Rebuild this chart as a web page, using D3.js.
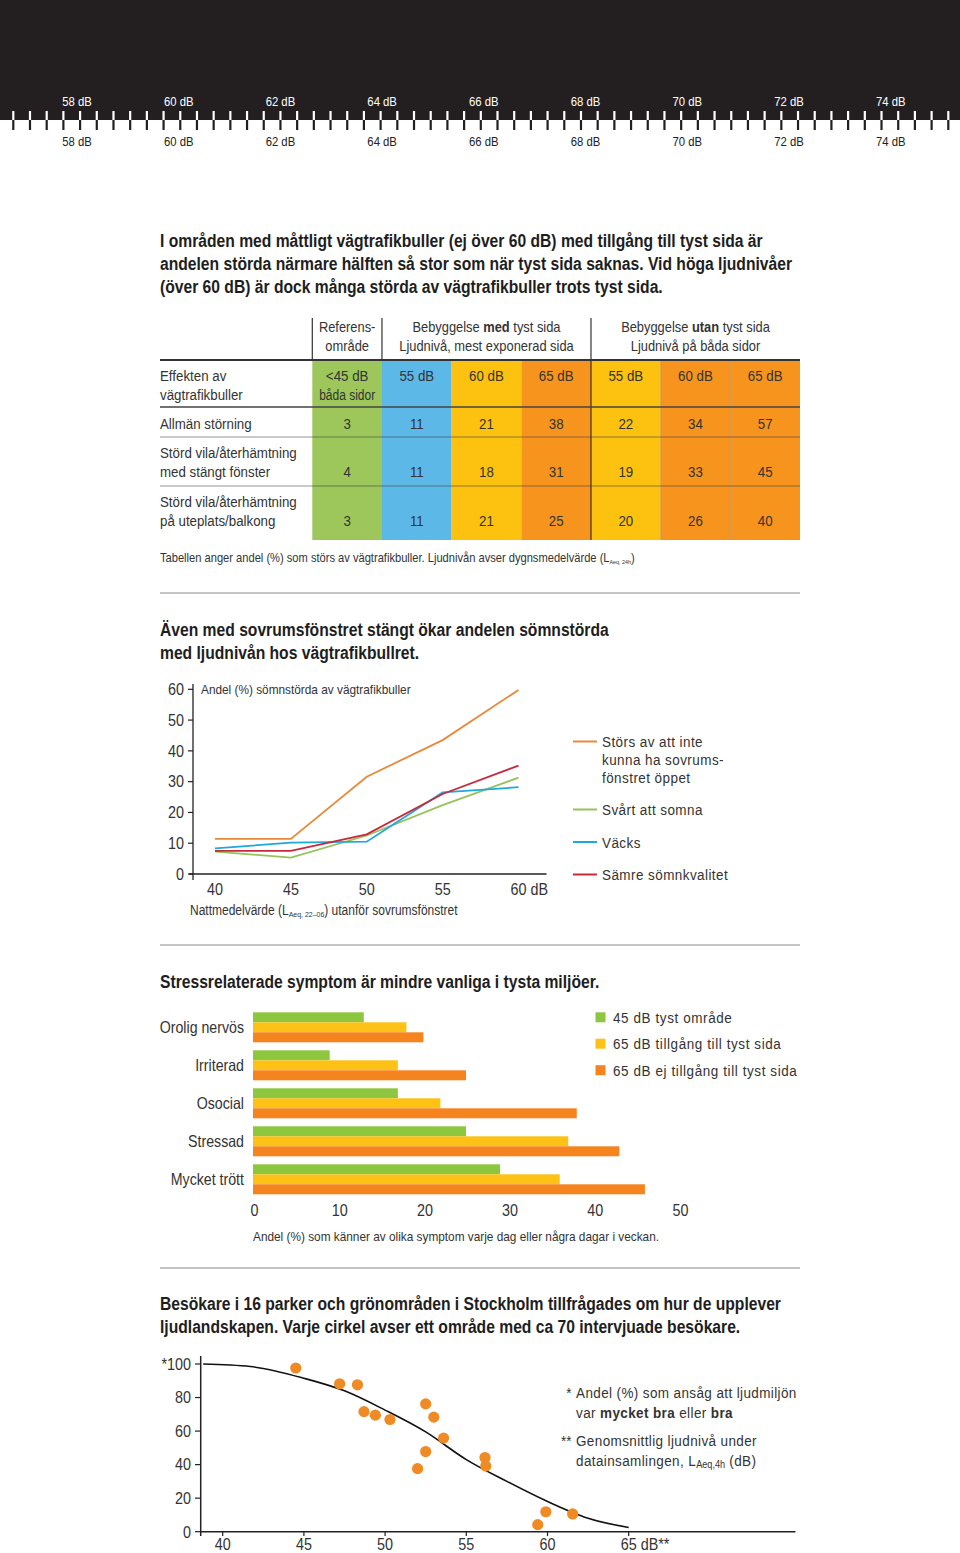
<!DOCTYPE html>
<html><head><meta charset="utf-8">
<script src="https://cdn.jsdelivr.net/npm/d3@7"></script>
<style>
body{margin:0;background:#fff;}
svg text{font-family:"Liberation Sans",Arial,sans-serif;fill:#333;white-space:pre;}
</style></head><body><svg id="c" width="960" height="1553"></svg>
<script>
// ---------------- DATA ----------------
const rulerLabels = [58, 60, 62, 64, 66, 68, 70, 72, 74];
const rulerTickCount = 57;

const title1 = ["I områden med måttligt vägtrafikbuller (ej över 60 dB) med tillgång till tyst sida är",
  "andelen störda närmare hälften så stor som när tyst sida saknas. Vid höga ljudnivåer",
  "(över 60 dB) är dock många störda av vägtrafikbuller trots tyst sida."];

const tableColumns = ["<45 dB", "55 dB", "60 dB", "65 dB", "55 dB", "60 dB", "65 dB"];
const tableColumnColors = ["#9dc75a", "#5cb8e6", "#fcc20f", "#f7941d", "#fcc20f", "#f7941d", "#f7941d"];
const tableRowLabels = [["Allmän störning"], ["Störd vila/återhämtning", "med stängt fönster"], ["Störd vila/återhämtning", "på uteplats/balkong"]];
const rowGeneral = [3, 11, 21, 38, 22, 34, 57];
const rowRestWindow = [4, 11, 18, 31, 19, 33, 45];
const rowRestBalcony = [3, 11, 21, 25, 20, 26, 40];

const title2 = ["Även med sovrumsfönstret stängt ökar andelen sömnstörda", "med ljudnivån hos vägtrafikbullret."];
const sleepLevels = [40, 45, 50, 55, 60];
const sleepWindowClosed = [11.4, 11.4, 31.6, 43.5, 59.8];
const sleepFallAsleep = [7.3, 5.3, 12.5, 22.4, 31.3];
const sleepWoken = [8.3, 10.2, 10.5, 26.5, 28.2];
const sleepQuality = [7.5, 7.5, 12.9, 26.0, 35.2];
const sleepYTicks = [0, 10, 20, 30, 40, 50, 60];
const sleepSeriesNames = [["Störs av att inte", "kunna ha sovrums-", "fönstret öppet"], ["Svårt att somna"], ["Väcks"], ["Sämre sömnkvalitet"]];
const sleepColors = ["#e8893a", "#95c25a", "#1fa8dc", "#c8283c"];

const title3 = ["Stressrelaterade symptom är mindre vanliga i tysta miljöer."];
const symptoms = ["Orolig nervös", "Irriterad", "Osocial", "Stressad", "Mycket trött"];
const quiet45 = [13, 9, 17, 25, 29];
const quietSide65 = [18, 17, 22, 37, 36];
const noQuietSide65 = [20, 25, 38, 43, 46];
const symptomSeriesNames = ["45 dB tyst område", "65 dB tillgång till tyst sida", "65 dB ej tillgång till tyst sida"];
const symptomColors = ["#8dc63f", "#fdc215", "#f5841f"];
const symptomTicks = [0, 10, 20, 30, 40, 50];

const title4 = ["Besökare i 16 parker och grönområden i Stockholm tillfrågades om hur de upplever",
  "ljudlandskapen. Varje cirkel avser ett område med ca 70 intervjuade besökare."];
const parkLevels = [44.5, 47.2, 48.3, 48.7, 49.4, 50.3, 52.5, 53.0, 53.6, 52.5, 52.0, 56.15, 56.2, 59.9, 61.55, 59.4];
const parkGood = [97.6, 88.2, 87.6, 71.6, 69.5, 66.9, 76.2, 68.3, 55.8, 47.8, 37.6, 44.2, 39.2, 11.9, 10.6, 4.2];
const curveLevels = [38.8, 41.7, 45, 47.5, 50, 52.5, 55, 57.5, 60, 62.5, 65];
const curveGood = [100, 98.5, 91.5, 84, 72.5, 59.5, 43, 30, 18, 8, 2.5];
const parkXTicks = [40, 45, 50, 55, 60, 65];
const parkYTicks = [0, 20, 40, 60, 80, 100];

// ---------------- HELPERS ----------------
const SX = 0.87; // condensed look
const svg = d3.select("#c");
function txt(g, x, y, segs, o = {}) {
  const t = g.append("text").attr("transform", `translate(${x},${y}) scale(${SX},1)`)
    .attr("font-size", o.size || 15).attr("text-anchor", o.anchor || "start");
  if (o.fill) t.style("fill", o.fill);
  if (o.weight) t.attr("font-weight", o.weight);
  if (o.ls) t.attr("letter-spacing", o.ls);
  const sub = o.sub || 0.6;
  (typeof segs === "string" ? [[segs]] : segs).forEach(s => {
    const ts = t.append("tspan").text(s[0]);
    if (s[1] === "b") ts.attr("font-weight", "bold");
    if (s[1] === "sub") ts.attr("font-size", (o.size || 15) * sub).attr("dy", 2).attr("letter-spacing", 0);
    if (s[1] === "unsub") ts.attr("dy", -2);
  });
  return t;
}
const tw = t => t.node().getComputedTextLength() * SX;
function title(lines, y0) {
  lines.forEach((l, i) => txt(svg, 160, y0 + i * 23, l, {size: 18, weight: "bold", fill: "#1e1e1e"}));
}
function sep(y) {
  svg.append("line").attr("x1", 160).attr("x2", 800).attr("y1", y).attr("y2", y)
    .attr("stroke", "#8a8a8a").attr("stroke-width", 1);
}

// ---------------- RULER ----------------
svg.append("rect").attr("x", 0).attr("y", 0).attr("width", 960).attr("height", 120).attr("fill", "#231f20");
const tickX = d3.scaleLinear().domain([0, rulerTickCount - 1]).range([13.3, 948.3]);
const rulerTicks = svg.append("g");
d3.range(rulerTickCount).forEach(i => {
  rulerTicks.append("line").attr("x1", tickX(i)).attr("x2", tickX(i)).attr("y1", 111).attr("y2", 120)
    .attr("stroke", "#fff").attr("stroke-width", 2.2);
  rulerTicks.append("line").attr("x1", tickX(i)).attr("x2", tickX(i)).attr("y1", 120).attr("y2", 130)
    .attr("stroke", "#231f20").attr("stroke-width", 2.2);
});
const dbX = d3.scaleLinear().domain([58, 74]).range([77, 890.7]);
rulerLabels.forEach(d => {
  txt(svg, dbX(d), 105.8, d + " dB", {size: 13, anchor: "middle", fill: "#fff"});
  txt(svg, dbX(d), 145.8, d + " dB", {size: 13, anchor: "middle", fill: "#222"});
});

// ---------------- TITLE 1 + TABLE ----------------
title(title1, 247);
const colX = d3.scaleLinear().domain([0, 7]).range([312.3, 800]);
const rowEdges = [360, 407, 437, 486, 540];
const tableValues = [rowGeneral, rowRestWindow, rowRestBalcony];
const tbl = svg.append("g");
tableColumns.forEach((c, i) => {
  tbl.append("rect").attr("x", colX(i)).attr("y", rowEdges[0]).attr("width", colX(i + 1) - colX(i))
    .attr("height", rowEdges[4] - rowEdges[0]).attr("fill", tableColumnColors[i]);
});
[0, 1, 4].forEach(i => tbl.append("line").attr("x1", colX(i)).attr("x2", colX(i)).attr("y1", 318).attr("y2", 360)
  .attr("stroke", "#333").attr("stroke-width", 1.2));
tbl.append("line").attr("x1", colX(4)).attr("x2", colX(4)).attr("y1", 360).attr("y2", 540).attr("stroke", "#333").attr("stroke-width", 1.2);
[5, 6].forEach(i => tbl.append("line").attr("x1", colX(i)).attr("x2", colX(i)).attr("y1", 360).attr("y2", 540).attr("stroke", "rgba(0,0,0,0.12)").attr("stroke-width", 1));
const cx = (a, b) => (colX(a) + colX(b)) / 2;
txt(tbl, cx(0, 1), 332, "Referens-", {size: 14.8, anchor: "middle"});
txt(tbl, cx(0, 1), 351, "område", {size: 14.8, anchor: "middle"});
txt(tbl, cx(1, 4), 332, [["Bebyggelse "], ["med", "b"], [" tyst sida"]], {size: 14.8, anchor: "middle"});
txt(tbl, cx(1, 4), 351, "Ljudnivå, mest exponerad sida", {size: 14.8, anchor: "middle"});
txt(tbl, cx(4, 7), 332, [["Bebyggelse "], ["utan", "b"], [" tyst sida"]], {size: 14.8, anchor: "middle"});
txt(tbl, cx(4, 7), 351, "Ljudnivå på båda sidor", {size: 14.8, anchor: "middle"});
tbl.append("line").attr("x1", 160).attr("x2", 800).attr("y1", 360).attr("y2", 360).attr("stroke", "#333").attr("stroke-width", 2);
tbl.append("line").attr("x1", 160).attr("x2", 800).attr("y1", 407).attr("y2", 407).attr("stroke", "#444").attr("stroke-width", 1.6);
[437, 486].forEach(y => tbl.append("line").attr("x1", 160).attr("x2", 800).attr("y1", y).attr("y2", y).attr("stroke", "rgba(60,60,60,0.55)").attr("stroke-width", 1));
txt(tbl, 160, 380.5, "Effekten av", {size: 15.3});
txt(tbl, 160, 399.5, "vägtrafikbuller", {size: 15.3});
tableColumns.forEach((c, i) => txt(tbl, cx(i, i + 1), 380.5, c, {size: 15.3, anchor: "middle"}));
txt(tbl, cx(0, 1), 399.5, "båda sidor", {size: 13.8, anchor: "middle"});
const rowBase = [428.5, 477, 525.5];
tableRowLabels.forEach((lab, r) => {
  lab.forEach((l, k) => txt(tbl, 160, rowBase[r] - (lab.length - 1 - k) * 19, l, {size: 15.3}));
  tableValues[r].forEach((v, i) => txt(tbl, cx(i, i + 1), rowBase[r], String(v), {size: 15.3, anchor: "middle"}));
});
txt(svg, 160, 562, [["Tabellen anger andel (%) som störs av vägtrafikbuller. Ljudnivån avser dygnsmedelvärde (L"], ["Aeq, 24h", "sub"], [")", "unsub"]], {size: 12.8, sub: 0.48});
sep(593);

// ---------------- LINE CHART ----------------
title(title2, 636);
const lx = d3.scaleLinear().domain([40, 60]).range([215, 518.5]);
const ly = d3.scaleLinear().domain([0, 60]).range([874, 689.3]);
const lc = svg.append("g");
lc.append("line").attr("x1", 193).attr("x2", 193).attr("y1", 684).attr("y2", 880).attr("stroke", "#222").attr("stroke-width", 1.3);
lc.append("line").attr("x1", 189).attr("x2", 546.5).attr("y1", 874).attr("y2", 874).attr("stroke", "#222").attr("stroke-width", 1.3);
sleepYTicks.forEach(v => {
  lc.append("line").attr("x1", 188).attr("x2", 193).attr("y1", ly(v)).attr("y2", ly(v)).attr("stroke", "#222").attr("stroke-width", 1.2);
  txt(lc, 184, ly(v) + 5.8, String(v), {size: 16.5, anchor: "end"});
});
sleepLevels.forEach((v, i) => {
  const t = txt(lc, lx(v), 895, String(v), {size: 16.5, anchor: "middle"});
  if (i === sleepLevels.length - 1) txt(lc, lx(v) + tw(t) / 2, 895, " dB", {size: 16.5});
});
txt(lc, 201, 693.5, "Andel (%) sömnstörda av vägtrafikbuller", {size: 13.6});
txt(lc, 190, 915, [["Nattmedelvärde (L"], ["Aeq, 22–06", "sub"], [") utanför sovrumsfönstret", "unsub"]], {size: 13.8, sub: 0.58});
const lineGen = d3.line().x((d, i) => lx(sleepLevels[i])).y(d => ly(d));
[sleepWindowClosed, sleepFallAsleep, sleepWoken, sleepQuality].forEach((s, k) => {
  lc.append("path").attr("d", lineGen(s)).attr("fill", "none").attr("stroke", sleepColors[k]).attr("stroke-width", 1.8);
});
const legY = [741.5, 809.5, 842, 874.5];
sleepSeriesNames.forEach((lines, k) => {
  lc.append("line").attr("x1", 573).attr("x2", 597).attr("y1", legY[k]).attr("y2", legY[k]).attr("stroke", sleepColors[k]).attr("stroke-width", 2);
  lines.forEach((l, j) => txt(lc, 602, legY[k] + 5.5 + j * 18, l, {size: 15.5, ls: 0.5}));
});
sep(945);

// ---------------- BAR CHART ----------------
title(title3, 988);
const bx = d3.scaleLinear().domain([0, 50]).range([253, 679]);
const by = d3.scaleBand().domain(symptoms).range([1012.3, 1194.3]).paddingInner(8 / 38).paddingOuter(0);
const seriesBand = d3.scaleBand().domain([0, 1, 2]).range([0, by.bandwidth()]);
const bc = svg.append("g");
const barSeries = [quiet45, quietSide65, noQuietSide65];
symptoms.forEach((s, i) => {
  barSeries.forEach((ser, k) => {
    bc.append("rect").attr("x", bx(0)).attr("y", by(s) + seriesBand(k)).attr("width", bx(ser[i]) - bx(0))
      .attr("height", seriesBand.bandwidth()).attr("fill", symptomColors[k]);
  });
  txt(bc, 244, by(s) + by.bandwidth() / 2 + 6, s, {size: 16.3, anchor: "end"});
});
symptomTicks.forEach(v => txt(bc, bx(v) + 1.5, 1216, String(v), {size: 16.5, anchor: "middle"}));
txt(bc, 253, 1240.5, "Andel (%) som känner av olika symptom varje dag eller några dagar i veckan.", {size: 13.6});
const bLegY = [1017.3, 1043.7, 1070.2];
symptomSeriesNames.forEach((n, k) => {
  bc.append("rect").attr("x", 595.5).attr("y", bLegY[k] - 5).attr("width", 10).attr("height", 10).attr("fill", symptomColors[k]);
  txt(bc, 613, bLegY[k] + 5.5, n, {size: 15.5, ls: 0.68});
});
sep(1268);

// ---------------- SCATTER ----------------
title(title4, 1310);
const sx = d3.scaleLinear().domain([40, 65]).range([222.7, 628.7]);
const sy = d3.scaleLinear().domain([0, 100]).range([1531.7, 1364]);
const sc = svg.append("g");
sc.append("line").attr("x1", 200.7).attr("x2", 200.7).attr("y1", 1356).attr("y2", 1536).attr("stroke", "#222").attr("stroke-width", 1.5);
sc.append("line").attr("x1", 200).attr("x2", 795.5).attr("y1", 1531.7).attr("y2", 1531.7).attr("stroke", "#222").attr("stroke-width", 1.5);
parkYTicks.forEach(v => {
  sc.append("line").attr("x1", 195).attr("x2", 200.7).attr("y1", sy(v)).attr("y2", sy(v)).attr("stroke", "#222").attr("stroke-width", 1.2);
  txt(sc, 191, sy(v) + 5.8, (v === 100 ? "*" : "") + v, {size: 16.5, anchor: "end"});
});
parkXTicks.forEach((v, i) => {
  sc.append("line").attr("x1", sx(v)).attr("x2", sx(v)).attr("y1", 1531.7).attr("y2", 1536).attr("stroke", "#222").attr("stroke-width", 1.2);
  const t = txt(sc, sx(v), 1550, String(v), {size: 16.5, anchor: "middle"});
  if (i === parkXTicks.length - 1) txt(sc, sx(v) + tw(t) / 2, 1550, " dB**", {size: 16.5});
});
const curveGen = d3.line().curve(d3.curveMonotoneX).x((d, i) => sx(curveLevels[i])).y(d => sy(d));
sc.append("path").attr("d", curveGen(curveGood)).attr("fill", "none").attr("stroke", "#111").attr("stroke-width", 1.6);
parkLevels.forEach((v, i) => sc.append("circle").attr("cx", sx(v)).attr("cy", sy(parkGood[i])).attr("r", 5.6).attr("fill", "#f08a24"));
txt(sc, 571.5, 1397.5, "*", {size: 15.5, anchor: "end"});
txt(sc, 576, 1397.5, "Andel (%) som ansåg att ljudmiljön", {size: 15.5, ls: 0.45});
txt(sc, 576, 1417.5, [["var "], ["mycket bra", "b"], [" eller "], ["bra", "b"]], {size: 15.5, ls: 0.45});
txt(sc, 571.5, 1446, "**", {size: 15.5, anchor: "end"});
txt(sc, 576, 1446, "Genomsnittlig ljudnivå under", {size: 15.5, ls: 0.45});
txt(sc, 576, 1466, [["datainsamlingen, L"], ["Aeq,4h", "sub"], [" (dB)", "unsub"]], {size: 15.5, ls: 0.45, sub: 0.68});
</script></body></html>
